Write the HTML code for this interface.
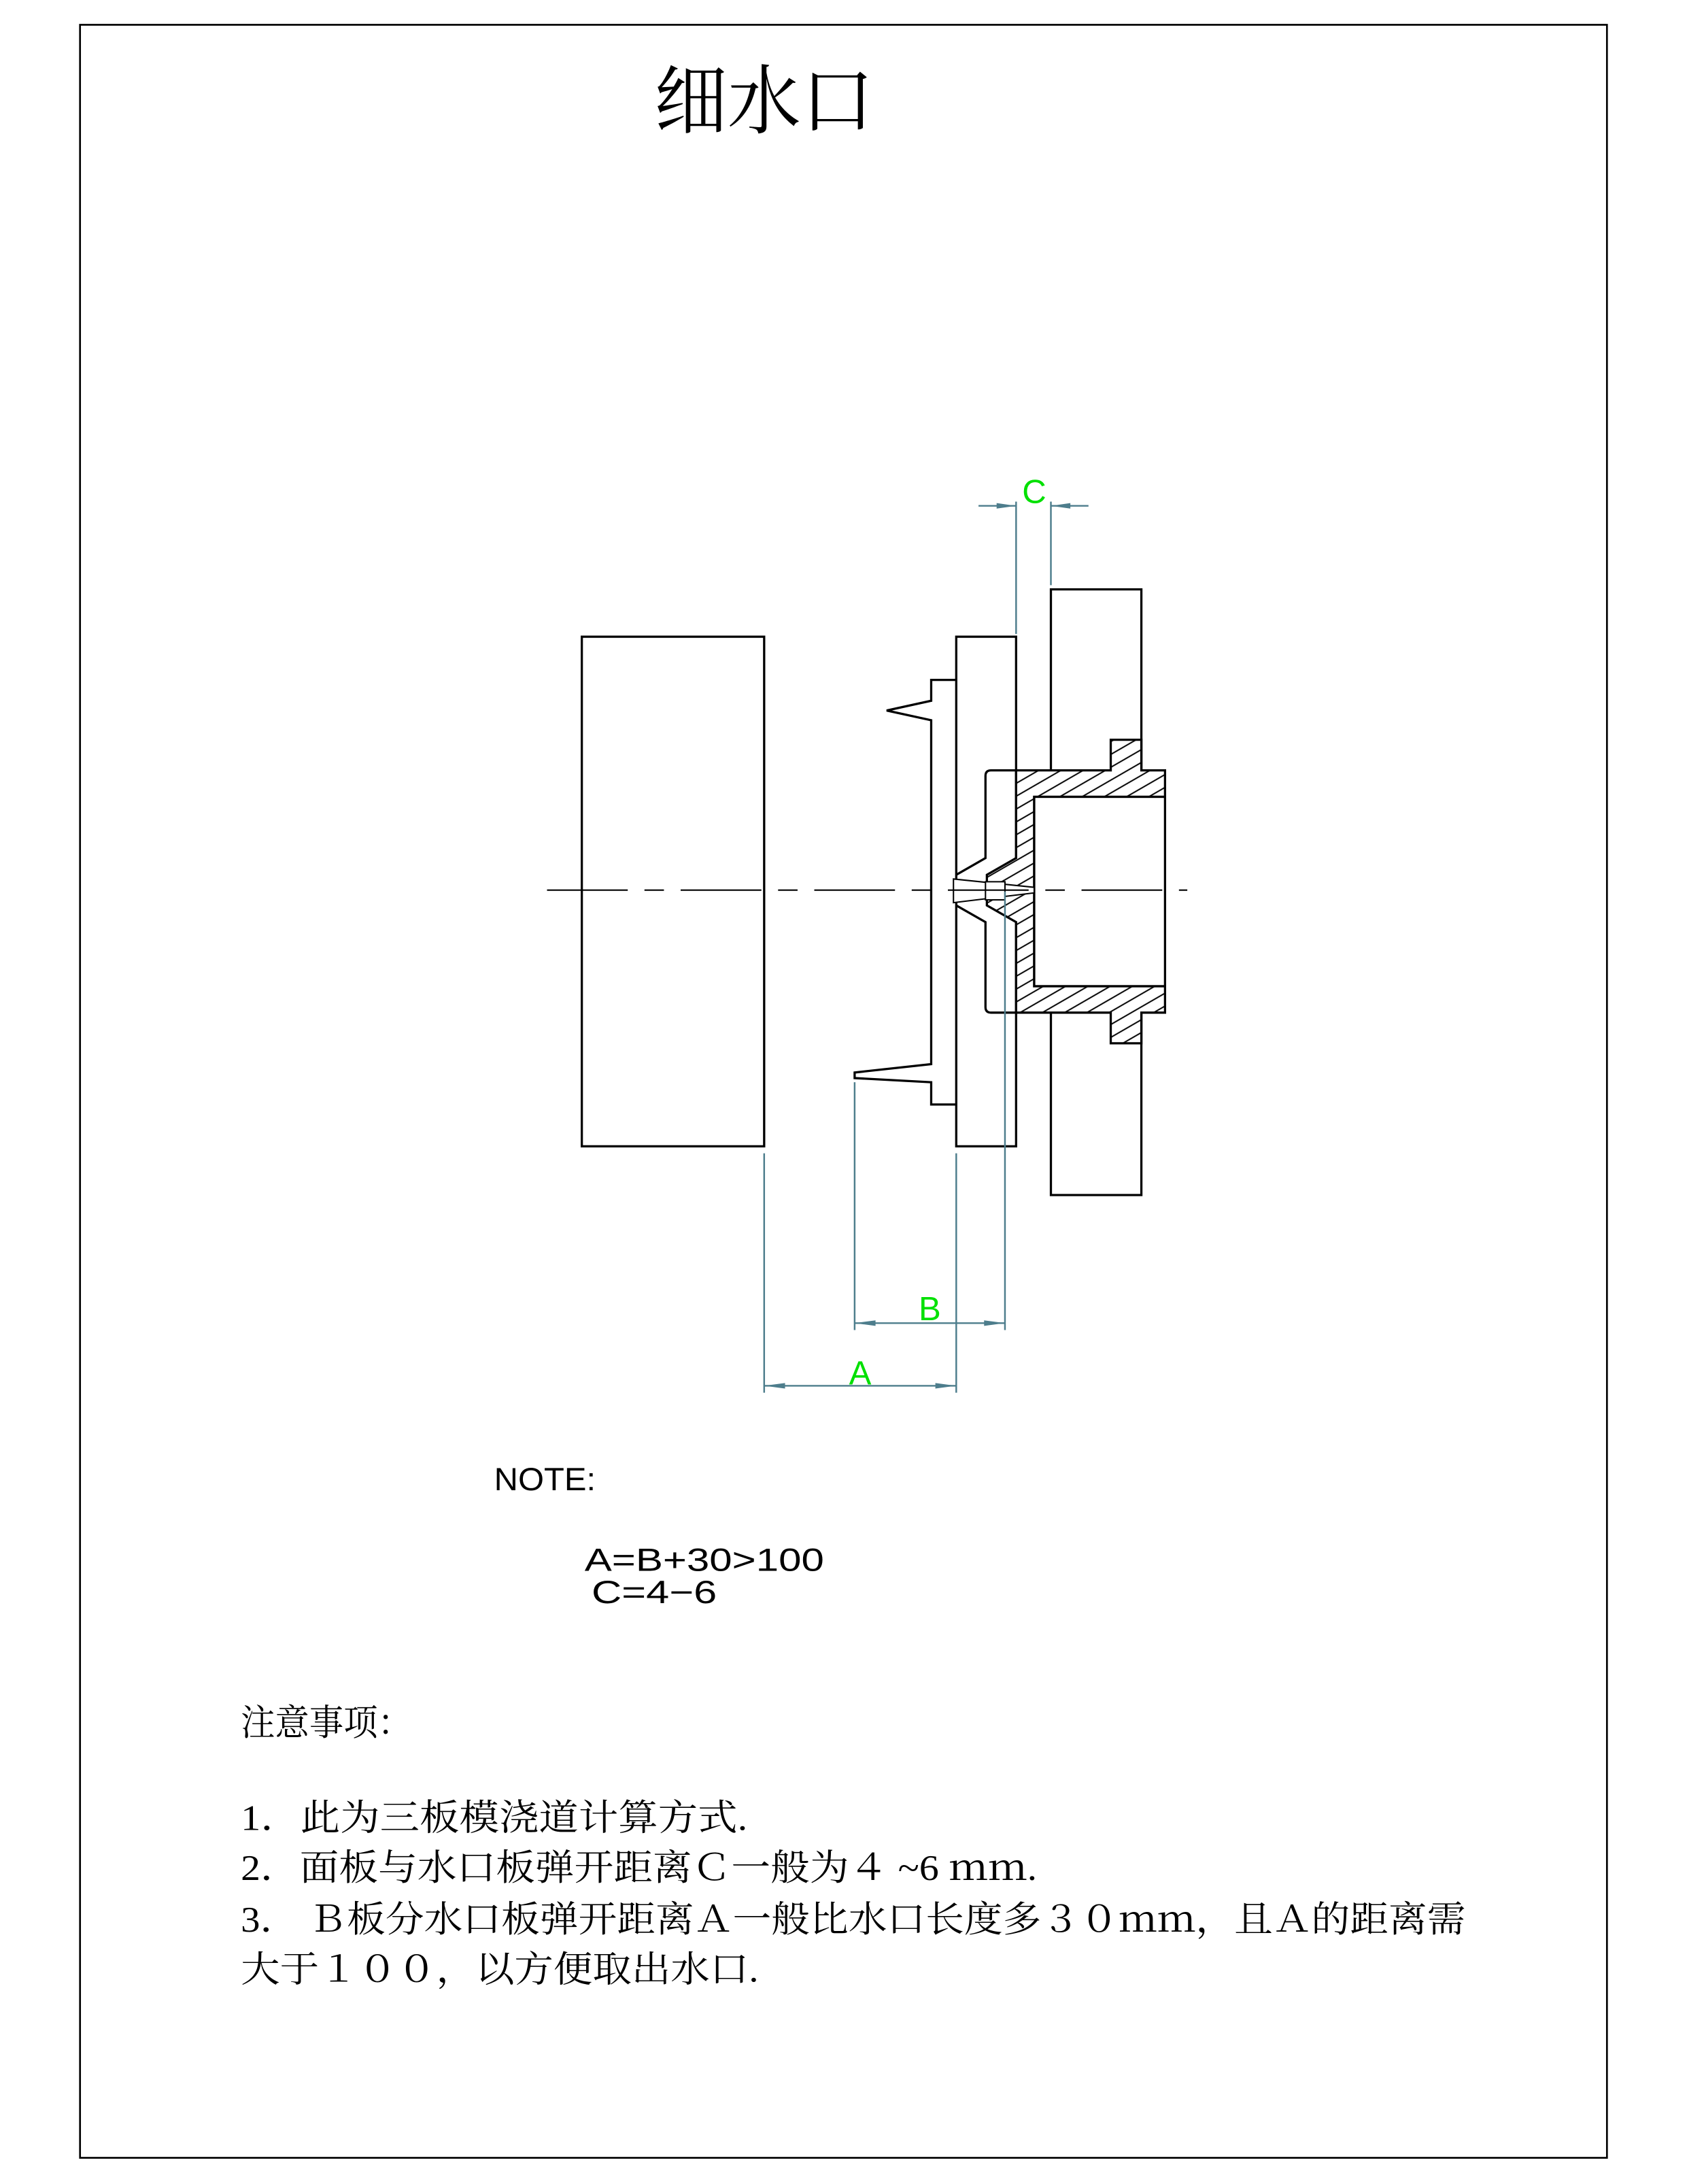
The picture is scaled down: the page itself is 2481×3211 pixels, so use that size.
<!DOCTYPE html>
<html><head><meta charset="utf-8"><style>html,body{margin:0;padding:0;background:#fff}svg{display:block}</style></head>
<body>
<svg width="2481" height="3211" viewBox="0 0 1212 1568" xmlns="http://www.w3.org/2000/svg">
<defs>
<pattern id="h" patternUnits="userSpaceOnUse" width="8" height="8" patternTransform="rotate(-30)">
<rect width="8" height="8" fill="#fff"/><line x1="0" y1="4" x2="8" y2="4" stroke="#000" stroke-width="1"/>
</pattern>
</defs>
<rect x="57.5" y="17.5" width="1097" height="1532" fill="none" stroke="#000" stroke-width="1.3"/>
<text x="549" y="91" font-family="'Liberation Serif','Noto Serif CJK SC',serif" font-size="54" text-anchor="middle" textLength="158" lengthAdjust="spacingAndGlyphs">细水口</text>

<g fill="none" stroke="#000" stroke-width="1.6">
<rect x="418" y="457" width="131" height="366"/>
<rect x="687" y="457" width="43" height="366"/>
<path d="M687,488 L669,488 L669,503 L637,510 L669,517 L669,764 L614,770 L614,774 L669,777 L669,793 L687,793"/>
<path d="M755,553 L755,423 L820,423 L820,553"/>
<path d="M755,727 L755,858 L820,858 L820,727"/>
<path d="M730,553 L712,553 Q708,553 708,557 L708,616 L687,628 M687,650 L708,662 L708,723 Q708,727 712,727 L730,727"/>
</g>
<path d="M730,553 L798,553 L798,531 L820,531 L820,553 L837,553 L837,727 L820,727 L820,749 L798,749 L798,727 L730,727 L730,662 L709,650 L709,628 L730,616 Z M743,572 L837,572 L837,708 L743,708 Z" fill="url(#h)" fill-rule="evenodd" stroke="#000" stroke-width="1.6"/>
<rect x="743" y="572" width="94" height="136" fill="#fff" stroke="#000" stroke-width="1.6"/>
<g fill="#fff" stroke="#000" stroke-width="1">
<path d="M685,631 L743,637 L743,641 L685,648 Z"/>
<path d="M708,633 L722,633 L722,646 L708,646 Z"/>
</g>
<line x1="393" y1="639" x2="853" y2="639" stroke="#000" stroke-width="1" stroke-dasharray="58 12 14 12"/>

<g stroke="#4d7d8c" stroke-width="1.2" fill="#4d7d8c">
<line x1="730" y1="360" x2="730" y2="455"/>
<line x1="755" y1="360" x2="755" y2="420"/>
<line x1="703" y1="363" x2="730" y2="363"/>
<line x1="755" y1="363" x2="782" y2="363"/>
<path d="M730,363 L716,361 L716,365 Z" stroke="none"/>
<path d="M755,363 L769,361 L769,365 Z" stroke="none"/>
<line x1="614" y1="777" x2="614" y2="955"/>
<line x1="722" y1="640" x2="722" y2="955"/>
<line x1="614" y1="950" x2="722" y2="950"/>
<path d="M614,950 L629,948 L629,952 Z" stroke="none"/>
<path d="M722,950 L707,948 L707,952 Z" stroke="none"/>
<line x1="549" y1="828" x2="549" y2="1000"/>
<line x1="687" y1="828" x2="687" y2="1000"/>
<line x1="549" y1="995" x2="687" y2="995"/>
<path d="M549,995 L564,993 L564,997 Z" stroke="none"/>
<path d="M687,995 L672,993 L672,997 Z" stroke="none"/>
</g>
<g fill="#00e000" font-family="'Liberation Sans',sans-serif" font-size="24" text-anchor="middle">
<text x="743" y="361">C</text>
<text x="668" y="948">B</text>
<text x="618" y="994">A</text>
</g>
<g font-family="'Liberation Sans',sans-serif" font-size="23" fill="#000">
<text x="355" y="1070" textLength="73" lengthAdjust="spacingAndGlyphs">NOTE:</text>
<text x="420" y="1128" textLength="172" lengthAdjust="spacingAndGlyphs">A=B+30&gt;100</text>
<text x="425" y="1151" textLength="90" lengthAdjust="spacingAndGlyphs">C=4−6</text>
</g>
<g font-family="'Liberation Serif','Noto Serif CJK SC',serif" font-size="26" fill="#000">
<text x="173" y="1246" textLength="123" lengthAdjust="spacingAndGlyphs">注意事项：</text>
<text x="173" y="1314" textLength="364" lengthAdjust="spacingAndGlyphs">1．此为三板模浇道计算方式.</text>
<text x="173" y="1350" textLength="572" lengthAdjust="spacingAndGlyphs">2．面板与水口板弹开距离Ｃ一般为４ ~6 ｍｍ.</text>
<text x="173" y="1387" textLength="880" lengthAdjust="spacingAndGlyphs">3． Ｂ板分水口板弹开距离Ａ一般比水口长度多３０ｍｍ，且Ａ的距离需</text>
<text x="173" y="1423" textLength="372" lengthAdjust="spacingAndGlyphs">大于１００，以方便取出水口.</text>
</g>
</svg>
</body></html>
